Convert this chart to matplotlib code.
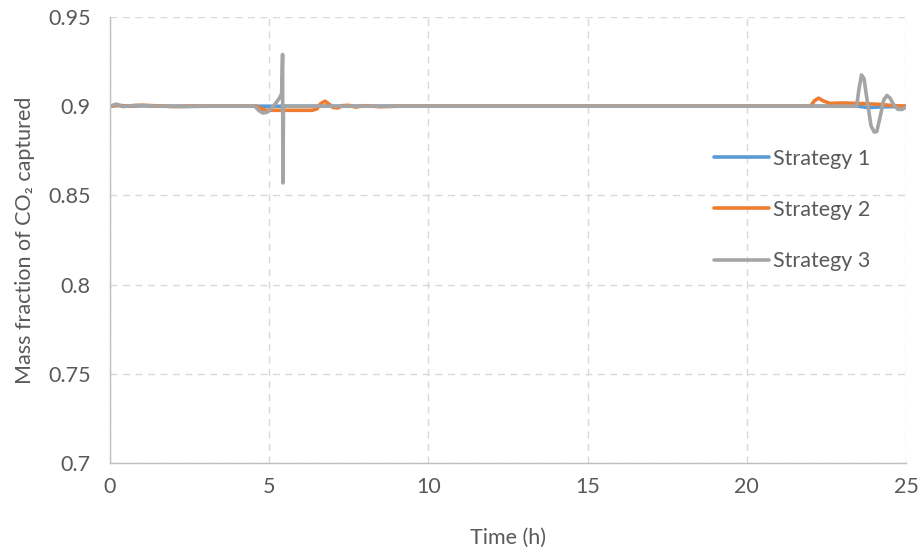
import matplotlib
matplotlib.use('Agg')
import matplotlib.pyplot as plt
from matplotlib.ticker import FuncFormatter

plt.rcParams['font.family'] = ['Lato', 'DejaVu Sans']

# strategy 1: stays on set-point
t1 = [0, 0.25, 0.6, 1.0, 1.5, 4.5, 5.3, 23.5, 23.8, 24.1, 25]
y1 = [0.9, 0.9005, 0.9, 0.9003, 0.9, 0.9, 0.9, 0.9, 0.8992, 0.8995, 0.9]

# strategy 2
t2 = [0, 0.2, 0.5, 1.0, 1.5, 2.0, 2.5, 4.6, 4.75, 4.9, 5.1, 6.35, 6.5, 6.62,
      6.75, 6.88, 7.0, 7.15, 7.3, 7.5, 7.7, 8.0, 8.5, 9.0, 22.0, 22.12, 22.25,
      22.4, 22.6, 23.0, 23.6, 24.2, 24.6, 25]
y2 = [0.9, 0.9005, 0.9, 0.9005, 0.9002, 0.8998, 0.9, 0.9, 0.8985, 0.8978, 0.8977,
      0.8977, 0.8985, 0.9015, 0.9028, 0.9012, 0.8993, 0.899, 0.9003, 0.9005,
      0.8995, 0.9003, 0.8997, 0.9, 0.9, 0.903, 0.9045, 0.903, 0.9016, 0.9018,
      0.9015, 0.901, 0.9003, 0.9]

# strategy 3
t3 = [0, 0.2, 0.4, 0.8, 1.2, 1.6, 2.4, 3.0, 4.55, 4.68, 4.8, 4.92, 5.05, 5.2,
      5.32, 5.39, 5.42, 5.43, 5.45, 23.45, 23.52, 23.6, 23.68, 23.78, 23.9,
      24.0, 24.08, 24.18, 24.3, 24.4, 24.5, 24.62, 24.75, 24.88, 25]
y3 = [0.9, 0.9012, 0.8998, 0.9005, 0.9003, 0.9, 0.8998, 0.9, 0.9, 0.8975,
      0.8962, 0.8965, 0.8985, 0.9015, 0.9045, 0.907, 0.929, 0.857, 0.9, 0.9,
      0.9095, 0.9175, 0.9155, 0.903, 0.889, 0.8855, 0.8858, 0.8935, 0.9035,
      0.906, 0.9045, 0.9005, 0.8982, 0.8982, 0.8995]

xticks = [0, 5, 10, 15, 20, 25]
yticks = [0.7, 0.75, 0.8, 0.85, 0.9, 0.95]

txt = '#595959'
fs = 15.5

fig = plt.figure(figsize=(9.22, 5.54), dpi=100)
ax = fig.add_axes([0.1193, 0.1643, 0.8634, 0.805])

ax.plot(t1, y1, color='#5B9BD5', linewidth=2.6, label='Strategy 1',
        solid_capstyle='round', solid_joinstyle='round')
ax.plot(t2, y2, color='#ED7D31', linewidth=2.6, label='Strategy 2',
        solid_capstyle='round', solid_joinstyle='round')
ax.plot(t3, y3, color='#A5A5A5', linewidth=2.6, label='Strategy 3',
        solid_capstyle='round', solid_joinstyle='round')

ax.set_xlim(0, 25)
ax.set_ylim(0.7, 0.95)
ax.set_xticks(xticks)
ax.set_yticks(yticks)
ax.yaxis.set_major_formatter(FuncFormatter(lambda v, p: '%g' % v))
ax.grid(True, color='#D9D9D9', linestyle=(0, (5, 4)), linewidth=1)
ax.set_axisbelow(True)
ax.tick_params(axis='y', length=0, labelsize=fs, colors=txt, pad=14)
ax.tick_params(axis='x', length=0, labelsize=fs, colors=txt, pad=10)

for s in ['top', 'right']:
    ax.spines[s].set_visible(False)
for s in ['left', 'bottom']:
    ax.spines[s].set_color('#BFBFBF')
    ax.spines[s].set_linewidth(1)

ax.set_xlabel('Time (h)', fontsize=fs, color=txt, labelpad=22)
ax.set_ylabel('Mass fraction of CO\u2082 captured', fontsize=fs, color=txt, labelpad=9)

leg = ax.legend(loc='center left', bbox_to_anchor=(0.735, 0.3675, 0.25, 0.4), frameon=False,
                fontsize=fs, handlelength=2.55, handletextpad=0.15, labelspacing=1.45)
for t in leg.get_texts():
    t.set_color(txt)

fig.savefig('out.png', dpi=100)
